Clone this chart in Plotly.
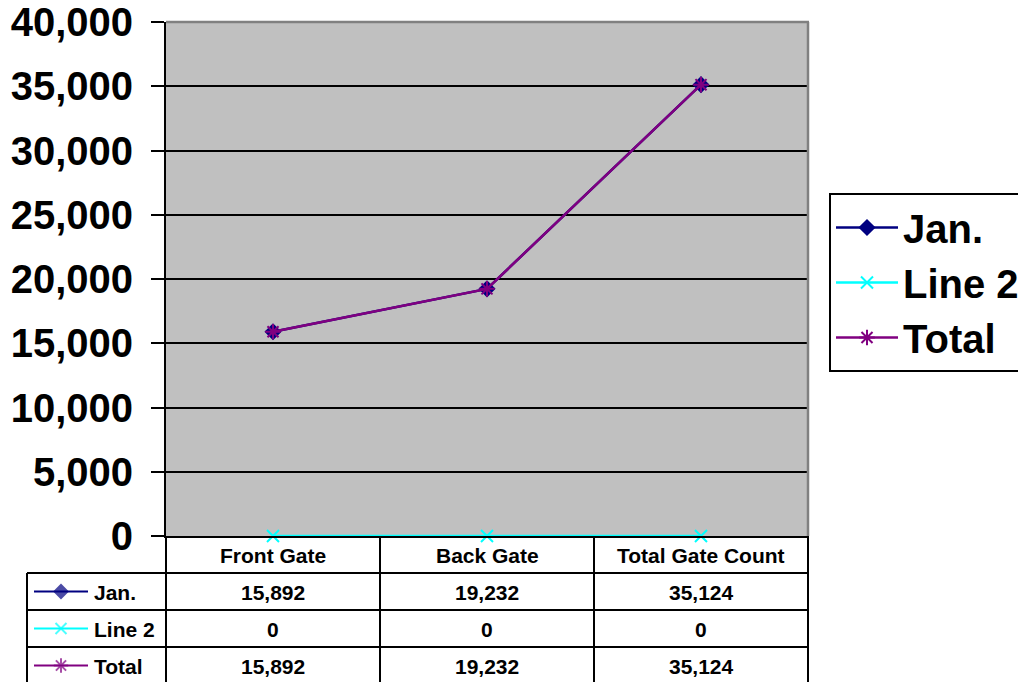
import plotly.graph_objects as go

categories = ["Front Gate", "Back Gate", "Total Gate Count"]
series_names = ["Jan.", "Line 2", "Total"]
jan_values = [15892, 19232, 35124]
line2_values = [0, 0, 0]
total_values = [15892, 19232, 35124]
y_ticks = [0, 5000, 10000, 15000, 20000, 25000, 30000, 35000, 40000]

# page body has an 8px margin; the figure is sized so the view is 1026x682
OFF = 8
W, H = 1026 - OFF, 682 - OFF
FONT = "Liberation Sans, Arial, sans-serif"

# positions below are in screenshot pixels
PL, PR, PT, PB = 166, 808, 22, 536
row_edges = [536, 573, 610, 647, 684]
col_edges = [166, 380, 594, 808]
key_left = 27

colors = ["#000080", "#00FFFF", "#800080"]
symbols = ["diamond", "x-thin-open", "asterisk-open"]
msizes = [11, 12, 13]
all_values = [jan_values, line2_values, total_values]


def px_x(p):
    return (p - OFF) / W


def px_y(p):
    return 1 - (p - OFF) / H


fig = go.Figure()

for i, (name, vals) in enumerate(zip(series_names, all_values)):
    fig.add_trace(go.Scatter(
        x=categories, y=vals, name=name, mode="lines+markers",
        line=dict(color=colors[i], width=2.5),
        marker=dict(symbol=symbols[i], size=msizes[i], color=colors[i],
                    line=dict(color=colors[i], width=2)),
        legendgroup=name, cliponaxis=False,
        xaxis="x", yaxis="y",
    ))

# table key icons (pixel overlay axes)
for i, name in enumerate(series_names):
    yc = (row_edges[i + 1] + row_edges[i + 2]) / 2
    fig.add_trace(go.Scatter(
        x=[34, 61, 88], y=[yc, yc, yc], mode="lines+markers", showlegend=False,
        line=dict(color=colors[i], width=2),
        marker=dict(symbol=symbols[i], size=[0, msizes[i] - 1, 0], color=colors[i],
                    line=dict(color=colors[i], width=2)),
        xaxis="x2", yaxis="y2", hoverinfo="skip", cliponaxis=False,
    ))

shapes = []
shapes.append(dict(type="rect", xref="x domain", yref="y domain", x0=0, x1=1, y0=0, y1=1,
                   fillcolor="#C0C0C0", line=dict(width=0), layer="below"))
shapes.append(dict(type="line", xref="paper", yref="paper", x0=px_x(PL), x1=px_x(PR + 1),
                   y0=px_y(PT), y1=px_y(PT), line=dict(color="#808080", width=2.5)))
shapes.append(dict(type="line", xref="paper", yref="paper", x0=px_x(PR), x1=px_x(PR),
                   y0=px_y(PT), y1=px_y(PB), line=dict(color="#808080", width=2.5)))
for r in row_edges[1:]:
    shapes.append(dict(type="line", xref="paper", yref="paper", x0=px_x(key_left), x1=px_x(PR),
                       y0=px_y(r), y1=px_y(r), line=dict(color="black", width=2)))
for c in col_edges:
    shapes.append(dict(type="line", xref="paper", yref="paper", x0=px_x(c), x1=px_x(c),
                       y0=px_y(PB), y1=px_y(row_edges[-1]), line=dict(color="black", width=2)))
shapes.append(dict(type="line", xref="paper", yref="paper", x0=px_x(key_left), x1=px_x(key_left),
                   y0=px_y(row_edges[1]), y1=px_y(row_edges[-1]), line=dict(color="black", width=2)))

annotations = []
col_centers = [(col_edges[j] + col_edges[j + 1]) / 2 for j in range(3)]
tfont = dict(family=FONT, size=21, color="black", weight="bold")
for j, cat in enumerate(categories):
    annotations.append(dict(xref="paper", yref="paper", x=px_x(col_centers[j]),
                            y=px_y((row_edges[0] + row_edges[1]) / 2 + 1),
                            text=cat, showarrow=False, xanchor="center", yanchor="middle",
                            font=tfont))
for i, (name, vals) in enumerate(zip(series_names, all_values)):
    yc = (row_edges[i + 1] + row_edges[i + 2]) / 2 + 1
    annotations.append(dict(xref="paper", yref="paper", x=px_x(92), y=px_y(yc),
                            text=name, showarrow=False, xanchor="left", yanchor="middle",
                            font=tfont))
    for j, v in enumerate(vals):
        annotations.append(dict(xref="paper", yref="paper", x=px_x(col_centers[j]), y=px_y(yc),
                                text=f"{v:,}", showarrow=False, xanchor="center", yanchor="middle",
                                font=tfont))

fig.update_layout(
    width=W, height=H,
    margin=dict(l=0, r=0, t=0, b=0, autoexpand=False),
    paper_bgcolor="white", plot_bgcolor="rgba(0,0,0,0)",
    font=dict(family=FONT, color="black", weight="bold"),
    xaxis=dict(domain=[px_x(PL), px_x(PR)], range=[-0.5, 2.5], type="category",
               showgrid=False, ticks="", showticklabels=False,
               showline=True, linecolor="black", linewidth=2,
               anchor="y", zeroline=False),
    yaxis=dict(domain=[px_y(PB), px_y(PT)], range=[0, 40000], tickvals=y_ticks,
               tickformat=",d", showgrid=True, gridcolor="black", gridwidth=2,
               ticks="outside", ticklen=13, tickwidth=2, tickcolor="black",
               showline=True, linecolor="black", linewidth=2, zeroline=False,
               tickfont=dict(family=FONT, size=40, color="black", weight="bold"),
               ticklabelstandoff=10, ticklabeloverflow="allow", anchor="x"),
    xaxis2=dict(domain=[0, 1], range=[OFF, W + OFF], visible=False, anchor="y2", fixedrange=True),
    yaxis2=dict(domain=[0, 1], range=[H + OFF, OFF], visible=False, anchor="x2", fixedrange=True),
    legend=dict(x=px_x(829), y=px_y(193), xanchor="left", yanchor="top",
                bordercolor="black", borderwidth=2, bgcolor="white",
                font=dict(family=FONT, size=40, color="black", weight="bold"),
                tracegroupgap=11, itemwidth=62, traceorder="normal",
                entrywidth=180, entrywidthmode="pixels"),
    shapes=shapes, annotations=annotations,
    showlegend=True,
)

fig.write_html("out.html")
